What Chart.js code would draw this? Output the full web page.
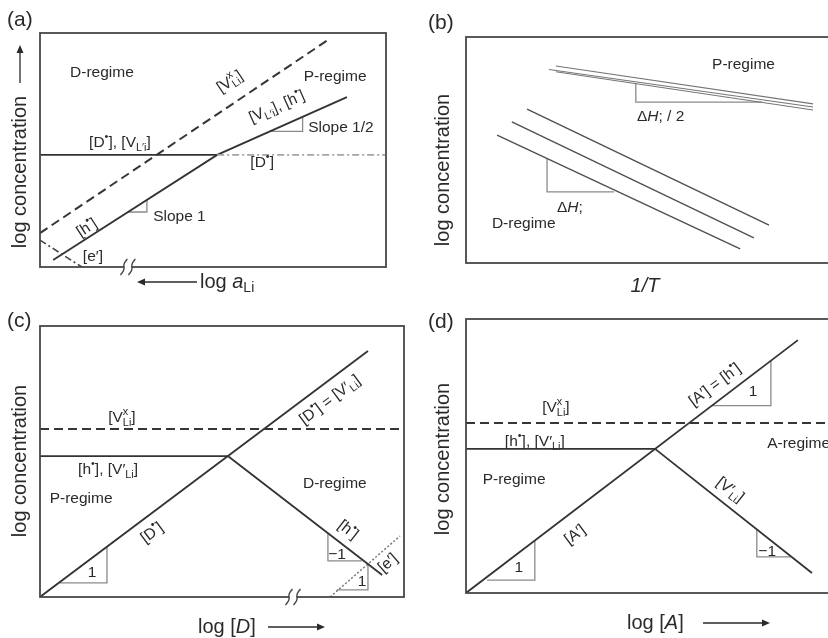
<!DOCTYPE html>
<html>
<head>
<meta charset="utf-8">
<script src="https://cdn.jsdelivr.net/npm/chart.js@4"></script>
<style>
  html, body { margin: 0; padding: 0; overflow: hidden; background: #fff; }
  body { position: relative; width: 828px; height: 638px; }
  canvas { position: absolute; left: 0; top: 0; }
</style>
</head>
<body>
<canvas id="pa" width="828" height="638"></canvas>
<canvas id="pb" width="850" height="638"></canvas>
<canvas id="pc" width="828" height="638"></canvas>
<canvas id="pd" width="850" height="638"></canvas>
<script>
// all values in % of each panel frame (0-100 on both axes)

// (a) log concentration vs log a_Li
const aVxX = [0, 83.2], aVxY = [14.5, 97.0];
const aElecX = [0, 12.1], aElecY = [11.5, 0];
const aHoleX = [3.8, 51.2, 88.7], aHoleY = [3.0, 47.9, 72.6];
const aDonX = [0, 51.2], aDonY = [47.9, 47.9];
const aDonRestX = [51.2, 100], aDonRestY = [47.9, 47.9];
const aTri1X = [25.4, 30.9, 30.9], aTri1Y = [23.5, 23.5, 28.7];
const aTri2X = [66.5, 75.9, 75.9], aTri2Y = [58.0, 58.0, 64.2];

// (b) log concentration vs 1/T
const bP1X = [24.3, 93.8], bP1Y = [87.2, 70.4];
const bP2X = [22.4, 93.8], bP2Y = [85.6, 69.0];
const bP3X = [24.3, 93.8], bP3Y = [84.6, 67.7];
const bD1X = [16.5, 81.9], bD1Y = [68.1, 16.8];
const bD2X = [12.4, 77.8], bD2Y = [62.4, 11.1];
const bD3X = [8.4, 74.1], bD3Y = [56.6, 6.2];
const bTriPX = [45.9, 45.9, 80.0], bTriPY = [79.5, 71.2, 71.2];
const bTriDX = [21.9, 21.9, 40.0], bTriDY = [46.2, 31.5, 31.5];

// (c) log concentration vs log [D]
const cVxX = [0, 100], cVxY = [62.0, 62.0];
const cHX = [0, 51.6], cHY = [52.0, 52.0];
const cDX = [0, 90.1], cDY = [0, 90.8];
const cHoleX = [51.6, 94.0], cHoleY = [52.0, 8.1];
const cElecX = [79.7, 98.9], cElecY = [0, 22.5];
const cTri1X = [5.5, 18.4, 18.4], cTri1Y = [5.2, 5.2, 18.5];
const cTri2X = [79.1, 79.1, 88.5], cTri2Y = [23.5, 13.3, 13.3];
const cTri3X = [81.5, 90.1, 90.1], cTri3Y = [2.6, 2.6, 12.3];

// (d) log concentration vs log [A]
const dVxX = [0, 100], dVxY = [62.0, 62.0];
const dHX = [0, 51.1], dHY = [52.6, 52.6];
const dAX = [0, 89.7], dAY = [0, 92.3];
const dVX = [51.1, 93.5], dVY = [52.6, 7.3];
const dTri1X = [5.7, 18.6, 18.6], dTri1Y = [4.7, 4.7, 19.1];
const dTri2X = [66.5, 82.4, 82.4], dTri2Y = [68.4, 68.4, 84.8];
const dTri3X = [78.6, 78.6, 87.6], dTri3Y = [23.2, 13.2, 13.2];

const FONT = '"Liberation Sans", Arial, Helvetica, sans-serif';
const INK = '#2a2a2a';

// styles
const solid = { borderColor: '#333', borderWidth: 1.8 };
const dashed = { borderColor: '#363636', borderWidth: 2, borderDash: [9, 5] };
const tri = { borderColor: '#8a8a8a', borderWidth: 1.3 };
const thin = { borderColor: '#505050', borderWidth: 1.4 };
const pale = { borderColor: '#767676', borderWidth: 1.1 };

function line(xs, ys, style) {
  return Object.assign({
    data: xs.map((x, i) => ({ x: x, y: ys[i] })),
    pointRadius: 0, fill: false, tension: 0
  }, style);
}

// tiny markup: ^{sup} _{sub} *italic*
function parseRich(str) {
  var segs = [], buf = '', italic = false, i = 0;
  function push() { if (buf) segs.push({ text: buf, mode: 'n', italic: italic }); buf = ''; }
  while (i < str.length) {
    var c = str[i];
    if ((c === '^' || c === '_') && str[i + 1] === '{') {
      push();
      var end = str.indexOf('}', i);
      segs.push({ text: str.slice(i + 2, end), mode: c === '^' ? 'sup' : 'sub', italic: italic });
      i = end + 1; continue;
    }
    if (c === '*') { push(); italic = !italic; i++; continue; }
    buf += c; i++;
  }
  push();
  return segs;
}

function drawRich(ctx, str, x, y, o) {
  o = o || {};
  var size = o.size || 15.5;
  ctx.save();
  ctx.translate(x, y);
  if (o.angle) ctx.rotate(o.angle * Math.PI / 180);
  var parts = [], cx = 0, prev = null;
  parseRich(str).forEach(function(s) {
    var fs = s.mode === 'n' ? size : size * 0.7;
    var font = (s.italic ? 'italic ' : '') + fs + 'px ' + FONT;
    ctx.font = font;
    var w = ctx.measureText(s.text).width;
    var sx = (s.mode === 'sub' && prev && prev.mode === 'sup') ? prev.x : cx;
    var dy = s.mode === 'sup' ? -size * 0.38 : s.mode === 'sub' ? size * 0.3 : 0;
    var p = { text: s.text, mode: s.mode, font: font, x: sx, dy: dy };
    parts.push(p);
    cx = Math.max(cx, sx + w);
    prev = p;
  });
  var x0 = o.align === 'left' ? 0 : (o.align === 'right' ? -cx : -cx / 2);
  ctx.fillStyle = o.color || INK;
  ctx.textBaseline = 'middle';
  ctx.textAlign = 'left';
  parts.forEach(function(p) {
    ctx.font = p.font;
    ctx.fillText(p.text, x0 + p.x, p.dy);
  });
  ctx.restore();
}

function arrow(ctx, x1, y1, x2, y2) {
  var ang = Math.atan2(y2 - y1, x2 - x1), hl = 8, hw = 3.5;
  ctx.save();
  ctx.strokeStyle = INK; ctx.fillStyle = INK; ctx.lineWidth = 1.3;
  ctx.beginPath(); ctx.moveTo(x1, y1);
  ctx.lineTo(x2 - Math.cos(ang) * hl * 0.8, y2 - Math.sin(ang) * hl * 0.8); ctx.stroke();
  ctx.translate(x2, y2); ctx.rotate(ang);
  ctx.beginPath(); ctx.moveTo(0, 0); ctx.lineTo(-hl, -hw); ctx.lineTo(-hl, hw); ctx.closePath(); ctx.fill();
  ctx.restore();
}

const panelPlugin = {
  id: 'panelDeco',
  afterDatasetsDraw(chart) {
    const ctx = chart.ctx, a = chart.chartArea, o = chart.options.plugins.panelDeco;
    const sx = chart.scales.x, sy = chart.scales.y;
    ctx.save();
    ctx.strokeStyle = '#484848'; ctx.lineWidth = 1.8;
    ctx.strokeRect(a.left, a.top, a.right - a.left, a.bottom - a.top);
    // axis break marks
    (o.breaks || []).forEach(function(bx) {
      var px = sx.getPixelForValue(bx), py = a.bottom;
      ctx.fillStyle = '#fff';
      ctx.fillRect(px - 3.5, py - 3, 7, 6);
      ctx.strokeStyle = '#444'; ctx.lineWidth = 1.4;
      [-4, 4].forEach(function(d) {
        ctx.beginPath();
        ctx.moveTo(px + d - 3.5, py + 8);
        ctx.quadraticCurveTo(px + d + 1, py + 3, px + d, py);
        ctx.quadraticCurveTo(px + d - 1, py - 3, px + d + 3.5, py - 8);
        ctx.stroke();
      });
    });
    ctx.restore();
    (o.notes || []).forEach(function(n) {
      drawRich(ctx, n.t, sx.getPixelForValue(n.x), sy.getPixelForValue(n.y),
        { angle: n.a, align: n.al, size: n.size });
    });
    (o.outer || []).forEach(function(n) {
      drawRich(ctx, n.t, a.left + n.dx, a.top + n.dy, { angle: n.a, align: n.al, size: n.size });
    });
    (o.arrows || []).forEach(function(r) {
      arrow(ctx, a.left + r[0], a.top + r[1], a.left + r[2], a.top + r[3]);
    });
  }
};

function makePanel(id, box, canvasW, datasets, deco) {
  return new Chart(document.getElementById(id), {
    type: 'line',
    data: { datasets: datasets },
    plugins: [panelPlugin],
    options: {
      responsive: false,
      animation: false,
      events: [],
      layout: { padding: { left: box[0], top: box[1], right: canvasW - box[2], bottom: 638 - box[3] } },
      scales: {
        x: { type: 'linear', display: false, min: 0, max: 100 },
        y: { type: 'linear', display: false, min: 0, max: 100 }
      },
      plugins: { legend: { display: false }, tooltip: { enabled: false }, panelDeco: deco }
    }
  });
}

// (a)
makePanel('pa', [40, 33, 386, 267], 828, [
  line(aDonRestX, aDonRestY, { borderColor: '#a5a5a5', borderWidth: 1.6, borderDash: [7, 3, 2, 3] }),
  line(aDonX, aDonY, solid),
  line(aVxX, aVxY, dashed),
  line(aElecX, aElecY, { borderColor: '#444', borderWidth: 1.6, borderDash: [7, 3, 2, 3] }),
  line(aHoleX, aHoleY, solid),
  line(aTri1X, aTri1Y, tri),
  line(aTri2X, aTri2Y, tri)
], {
  breaks: [25.4],
  notes: [
    { t: 'D-regime', x: 17.9, y: 82.9 },
    { t: 'P-regime', x: 85.3, y: 81.2 },
    { t: '[V^{x}_{Li}]', x: 54.9, y: 79.1, a: -34 },
    { t: '[V_{L′i}], [h^{•}]', x: 68.5, y: 68.4, a: -24 },
    { t: 'Slope 1/2', x: 77.5, y: 59.4, al: 'left' },
    { t: '[D^{•}], [V_{L′i}]', x: 23.1, y: 53.0 },
    { t: '[D^{•}]', x: 64.2, y: 44.4 },
    { t: 'Slope 1', x: 32.7, y: 21.4, al: 'left' },
    { t: '[h^{•}]', x: 13.6, y: 16.7, a: -33 },
    { t: '[e′]', x: 15.3, y: 4.3 }
  ],
  outer: [
    { t: '(a)', dx: -33, dy: -13, size: 21, al: 'left' },
    { t: 'log concentration', dx: -20, dy: 139, size: 20, a: -90 },
    { t: 'log *a*_{Li}', dx: 160, dy: 249, size: 20, al: 'left' }
  ],
  arrows: [[-20, 50, -20, 12], [157, 249, 97, 249]]
});

// (b)
makePanel('pb', [466, 37, 836, 263], 850, [
  line(bP1X, bP1Y, pale),
  line(bP2X, bP2Y, pale),
  line(bP3X, bP3Y, pale),
  line(bD1X, bD1Y, thin),
  line(bD2X, bD2Y, thin),
  line(bD3X, bD3Y, thin),
  line(bTriPX, bTriPY, tri),
  line(bTriDX, bTriDY, tri)
], {
  notes: [
    { t: 'P-regime', x: 66.5, y: 87.6, al: 'left' },
    { t: 'Δ*H*; / 2', x: 46.2, y: 64.6, al: 'left' },
    { t: 'Δ*H*;', x: 24.6, y: 24.3, al: 'left' },
    { t: 'D-regime', x: 7.0, y: 17.3, al: 'left' }
  ],
  outer: [
    { t: '(b)', dx: -38, dy: -14, size: 21, al: 'left' },
    { t: 'log concentration', dx: -23, dy: 133, size: 20, a: -90 },
    { t: '*1/T*', dx: 179, dy: 249, size: 20 }
  ]
});

// (c)
makePanel('pc', [40, 326, 404, 597], 828, [
  line(cVxX, cVxY, dashed),
  line(cHX, cHY, solid),
  line(cDX, cDY, solid),
  line(cHoleX, cHoleY, solid),
  line(cElecX, cElecY, { borderColor: '#777', borderWidth: 1.5, borderDash: [2, 2] }),
  line(cTri1X, cTri1Y, tri),
  line(cTri2X, cTri2Y, tri),
  line(cTri3X, cTri3Y, tri)
], {
  breaks: [69.5],
  notes: [
    { t: '[V^{x}_{Li}]', x: 22.5, y: 66.1 },
    { t: '[h^{•}], [V′_{Li}]', x: 18.7, y: 46.9 },
    { t: 'P-regime', x: 11.3, y: 36.2 },
    { t: 'D-regime', x: 81.0, y: 41.7 },
    { t: '[D^{•}] = [V′_{Li}]', x: 79.7, y: 72.7, a: -37 },
    { t: '[D^{•}]', x: 30.8, y: 23.6, a: -37 },
    { t: '[h^{•}]', x: 84.6, y: 24.7, a: 38 },
    { t: '[e′]', x: 95.6, y: 12.5, a: -41 },
    { t: '1', x: 14.3, y: 8.9 },
    { t: '−1', x: 81.6, y: 15.5 },
    { t: '1', x: 88.5, y: 5.5 }
  ],
  outer: [
    { t: '(c)', dx: -33, dy: -5, size: 21, al: 'left' },
    { t: 'log concentration', dx: -20, dy: 135, size: 20, a: -90 },
    { t: 'log [*D*]', dx: 158, dy: 301, size: 20, al: 'left' }
  ],
  arrows: [[228, 301, 285, 301]]
});

// (d)
makePanel('pd', [466, 319, 836, 593], 850, [
  line(dVxX, dVxY, dashed),
  line(dHX, dHY, solid),
  line(dAX, dAY, solid),
  line(dVX, dVY, solid),
  line(dTri1X, dTri1Y, tri),
  line(dTri2X, dTri2Y, tri),
  line(dTri3X, dTri3Y, tri)
], {
  notes: [
    { t: '[V^{x}_{Li}]', x: 24.3, y: 67.5 },
    { t: '[h^{•}], [V′_{Li}]', x: 18.6, y: 55.1 },
    { t: 'P-regime', x: 13.0, y: 41.2 },
    { t: 'A-regime', x: 81.4, y: 54.4, al: 'left' },
    { t: '[A′] = [h^{•}]', x: 67.3, y: 75.9, a: -37 },
    { t: '[A′]', x: 29.5, y: 21.2, a: -37 },
    { t: '[V′_{Li}]', x: 71.4, y: 37.6, a: 38 },
    { t: '1', x: 14.3, y: 9.1 },
    { t: '1', x: 77.6, y: 73.4 },
    { t: '−1', x: 81.4, y: 15.0 }
  ],
  outer: [
    { t: '(d)', dx: -38, dy: 3, size: 21, al: 'left' },
    { t: 'log concentration', dx: -23, dy: 140, size: 20, a: -90 },
    { t: 'log [*A*]', dx: 161, dy: 304, size: 20, al: 'left' }
  ],
  arrows: [[237, 304, 304, 304]]
});
</script>
</body>
</html>
